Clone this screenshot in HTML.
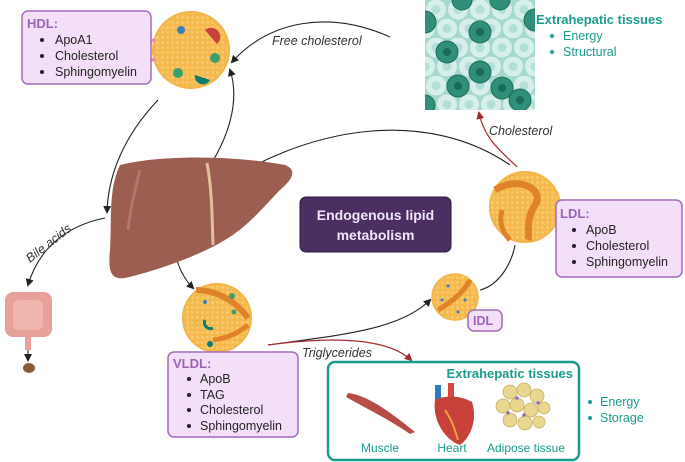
<!DOCTYPE html>
<html><head><meta charset="utf-8"><style>
html,body{margin:0;padding:0;background:#fff;}
svg{display:block;font-family:"Liberation Sans",sans-serif;}
</style></head><body>
<svg width="685" height="462" viewBox="0 0 685 462" xmlns="http://www.w3.org/2000/svg">
<defs>
<marker id="ab" markerWidth="8" markerHeight="8" refX="6" refY="4" orient="auto" markerUnits="userSpaceOnUse"><path d="M0,0 L8,4 L0,8 Z" fill="#222"/></marker>
<marker id="ar" markerWidth="8" markerHeight="8" refX="6" refY="4" orient="auto" markerUnits="userSpaceOnUse"><path d="M0,0 L8,4 L0,8 Z" fill="#a52a2a"/></marker>
<pattern id="cells" width="22" height="38" patternUnits="userSpaceOnUse" x="425" y="0">
<rect width="22" height="38" fill="#a6d8cd"/>
<circle cx="11" cy="9.5" r="10" fill="#d6efea"/><circle cx="11" cy="9.5" r="4.5" fill="#b3e0d6"/>
<circle cx="0" cy="28.5" r="10" fill="#d6efea"/><circle cx="0" cy="28.5" r="4.5" fill="#b3e0d6"/>
<circle cx="22" cy="28.5" r="10" fill="#d6efea"/><circle cx="22" cy="28.5" r="4.5" fill="#b3e0d6"/>
</pattern>
<pattern id="dots" width="5" height="5" patternUnits="userSpaceOnUse"><rect width="5" height="5" fill="#f4b84c"/><circle cx="2.5" cy="2.5" r="1.6" fill="#f7c86a"/></pattern>
<clipPath id="tc"><rect x="425" y="0" width="110" height="110"/></clipPath>
</defs>

<!-- tissue square -->
<g clip-path="url(#tc)">
<rect x="425" y="0" width="110" height="110" fill="url(#cells)"/>
<g fill="#2f8f78" stroke="#1f6e5c" stroke-width="1">
<circle cx="425" cy="22" r="11"/><circle cx="480" cy="32" r="11"/><circle cx="535" cy="20" r="11"/>
<circle cx="447" cy="52" r="11"/><circle cx="480" cy="72" r="11"/><circle cx="502" cy="88" r="11"/>
<circle cx="458" cy="86" r="11"/><circle cx="520" cy="100" r="11"/><circle cx="425" cy="105" r="10"/>
<circle cx="462" cy="0" r="10"/><circle cx="500" cy="0" r="10"/>
</g>
<g fill="#1a6b58"><circle cx="480" cy="32" r="4"/><circle cx="447" cy="52" r="4"/><circle cx="480" cy="72" r="4"/><circle cx="502" cy="88" r="4"/><circle cx="458" cy="86" r="4"/><circle cx="520" cy="100" r="4"/></g>
</g>
<text x="536" y="24" font-size="13" font-weight="bold" fill="#1a9c8c">Extrahepatic tissues</text>
<g font-size="12.5" fill="#1a9c8c"><circle cx="552" cy="36" r="2"/><text x="563" y="40">Energy</text><circle cx="552" cy="52" r="2"/><text x="563" y="56">Structural</text></g>

<!-- connectors -->
<g fill="none" stroke="#222" stroke-width="1.1">
<path d="M390,37 C330,10 270,20 232,62" marker-end="url(#ab)"/>
<path d="M200,180 C230,140 240,100 230,70" marker-end="url(#ab)"/>
<path d="M158,100 C120,140 108,180 107,212" marker-end="url(#ab)"/>
<path d="M510,165 C430,110 310,120 203,197" marker-end="url(#ab)"/>
<path d="M105,218 C70,225 40,245 28,285" marker-end="url(#ab)"/>
<path d="M28,340 L28,360" marker-end="url(#ab)"/>
<path d="M170,225 C175,260 180,275 193,288" marker-end="url(#ab)"/>
<path d="M268,345 C340,335 400,330 430,300" marker-end="url(#ab)"/>
<path d="M480,290 C500,285 512,262 515,245"/>
</g>
<path d="M517,167 C500,150 485,140 479,113" fill="none" stroke="#a52a2a" stroke-width="1.2" marker-end="url(#ar)"/>
<path d="M268,345 C340,335 390,340 411,360" fill="none" stroke="#a52a2a" stroke-width="1.2" marker-end="url(#ar)"/>

<g font-size="12.5" font-style="italic" fill="#333">
<text x="272" y="45">Free cholesterol</text>
<text x="489" y="135">Cholesterol</text>
<text x="302" y="357">Triglycerides</text>
<text x="0" y="0" transform="translate(30,263) rotate(-38)">Bile acids</text>
</g>

<!-- liver -->
<path d="M120,165 C160,155 230,155 285,165 C298,170 292,180 280,190 C265,205 250,225 225,240 C200,255 160,270 125,278 C110,280 108,270 110,250 C112,220 108,190 120,165 Z" fill="#9b5e50"/>
<path d="M140,170 C135,190 130,210 128,230" stroke="#b0776a" stroke-width="3" fill="none"/>
<path d="M207,163 C212,190 212,215 213,245" stroke="#e2c09a" stroke-width="3" fill="none"/>

<!-- intestine -->
<g>
<rect x="5" y="292" width="47" height="45" rx="8" fill="#e8a09a"/>
<rect x="13" y="300" width="30" height="30" rx="6" fill="#f0b6ae"/>
<rect x="25" y="335" width="6" height="15" fill="#e8a09a"/>
<ellipse cx="29" cy="368" rx="6" ry="5" fill="#8b5a3c"/>
</g>

<!-- particles -->
<circle cx="191" cy="50" r="38" fill="url(#dots)" stroke="#f2b54a" stroke-width="2"/>
<g><circle cx="181" cy="30" r="4" fill="#3b7fbf"/><path d="M205,30 a9,9 0 0 1 12,14 z" fill="#c8413c"/><circle cx="215" cy="58" r="5" fill="#3a9e6d"/><path d="M195,75 a8,8 0 0 0 15,5 z" fill="#0e7b6e"/><circle cx="178" cy="73" r="5" fill="#3a9e6d"/><path d="M155,40 a9,9 0 0 0 0,20" stroke="#e08ab0" stroke-width="3" fill="none"/></g>

<circle cx="525" cy="207" r="35" fill="url(#dots)" stroke="#f2b54a" stroke-width="2"/>
<path d="M495,190 C520,175 545,190 535,205 C525,220 530,235 528,240" stroke="#e0822a" stroke-width="7" fill="none"/>
<path d="M502,210 C498,225 505,235 510,240" stroke="#e0822a" stroke-width="5" fill="none"/>

<circle cx="455" cy="297" r="23" fill="url(#dots)" stroke="#f2b54a" stroke-width="1.5"/>
<path d="M438,310 C455,300 465,290 470,280" stroke="#e0822a" stroke-width="5" fill="none"/>
<g fill="#3b7fbf"><circle cx="448" cy="286" r="1.5"/><circle cx="465" cy="300" r="1.5"/><circle cx="458" cy="312" r="1.5"/><circle cx="442" cy="300" r="1.5"/></g>

<circle cx="217" cy="318" r="34" fill="url(#dots)" stroke="#f2b54a" stroke-width="2"/>
<path d="M196,290 C215,290 235,300 248,318" stroke="#e0822a" stroke-width="6" fill="none"/>
<path d="M213,340 C230,338 242,330 248,325" stroke="#e0822a" stroke-width="5" fill="none"/>
<g><circle cx="232" cy="296" r="3" fill="#3a9e6d"/><circle cx="205" cy="302" r="2" fill="#3b7fbf"/><path d="M205,320 a6,6 0 0 0 8,8" stroke="#0e7b6e" stroke-width="3" fill="none"/><circle cx="210" cy="344" r="3" fill="#0e7b6e"/><circle cx="234" cy="312" r="2.5" fill="#3a9e6d"/></g>

<!-- info boxes -->
<g font-size="12.5" fill="#222">
<rect x="22" y="11" width="129" height="73" rx="6" fill="#f3e0f8" stroke="#a36bbb" stroke-width="1.5"/>
<text x="27" y="28" font-weight="bold" fill="#9b63b5" font-size="13">HDL:</text>
<circle cx="42" cy="40" r="2"/><text x="55" y="44">ApoA1</text>
<circle cx="42" cy="56" r="2"/><text x="55" y="60">Cholesterol</text>
<circle cx="42" cy="72" r="2"/><text x="55" y="76">Sphingomyelin</text>

<rect x="556" y="200" width="126" height="77" rx="6" fill="#f3e0f8" stroke="#a36bbb" stroke-width="1.5"/>
<text x="560" y="218" font-weight="bold" fill="#9b63b5" font-size="13">LDL:</text>
<circle cx="574" cy="230" r="2"/><text x="586" y="234">ApoB</text>
<circle cx="574" cy="246" r="2"/><text x="586" y="250">Cholesterol</text>
<circle cx="574" cy="262" r="2"/><text x="586" y="266">Sphingomyelin</text>

<rect x="168" y="352" width="130" height="85" rx="6" fill="#f3e0f8" stroke="#a36bbb" stroke-width="1.5"/>
<text x="173" y="368" font-weight="bold" fill="#9b63b5" font-size="13">VLDL:</text>
<circle cx="189" cy="379" r="2"/><text x="200" y="383">ApoB</text>
<circle cx="189" cy="395" r="2"/><text x="200" y="399">TAG</text>
<circle cx="189" cy="410" r="2"/><text x="200" y="414">Cholesterol</text>
<circle cx="189" cy="426" r="2"/><text x="200" y="430">Sphingomyelin</text>

<rect x="468" y="310" width="34" height="21" rx="6" fill="#f3e0f8" stroke="#a36bbb" stroke-width="1.5"/>
<text x="473" y="325" font-weight="bold" fill="#9b63b5" font-size="12.5">IDL</text>
</g>

<!-- center title -->
<rect x="300" y="197" width="151" height="55" rx="6" fill="#4b2f63" stroke="#2e1a3e"/>
<text x="375.5" y="220" text-anchor="middle" font-size="14" font-weight="bold" fill="#f0e6f5">Endogenous lipid</text>
<text x="375.5" y="240" text-anchor="middle" font-size="14" font-weight="bold" fill="#f0e6f5">metabolism</text>

<!-- bottom extrahepatic box -->
<rect x="328" y="362" width="251" height="98" rx="7" fill="#fff" stroke="#1a9c8c" stroke-width="2.5"/>
<text x="573" y="378" text-anchor="end" font-size="13" font-weight="bold" fill="#1a9c8c">Extrahepatic tissues</text>
<path d="M348,393 C370,395 400,420 415,432 L410,434 C390,420 360,405 346,397 Z" fill="#b84c48"/>
<g>
<rect x="435" y="385" width="6" height="20" fill="#2d7ac4"/><rect x="448" y="383" width="6" height="15" fill="#d9453f"/>
<path d="M435,400 C432,420 445,440 460,445 C470,438 478,420 472,402 C460,395 445,395 435,400 Z" fill="#c7403a"/>
<path d="M445,410 C452,420 455,430 458,440" stroke="#e9a23b" stroke-width="2" fill="none"/>
</g>
<g fill="#e9d690" stroke="#c9b060" stroke-width="0.8">
<circle cx="510" cy="392" r="7"/><circle cx="524" cy="390" r="7"/><circle cx="537" cy="396" r="7"/><circle cx="503" cy="406" r="7"/><circle cx="517" cy="405" r="7"/><circle cx="531" cy="410" r="7"/><circle cx="544" cy="408" r="6"/><circle cx="510" cy="420" r="7"/><circle cx="525" cy="423" r="7"/><circle cx="539" cy="422" r="6"/>
</g>
<g fill="#8d6fc2"><circle cx="517" cy="398" r="1.8"/><circle cx="524" cy="415" r="1.8"/><circle cx="508" cy="413" r="1.8"/><circle cx="538" cy="403" r="1.8"/></g>
<g font-size="12" fill="#1a9c8c" text-anchor="middle">
<text x="380" y="452">Muscle</text><text x="452" y="452">Heart</text><text x="526" y="452">Adipose tissue</text>
</g>
<g font-size="12.5" fill="#1a9c8c"><circle cx="590" cy="402" r="2"/><text x="600" y="406">Energy</text><circle cx="590" cy="418" r="2"/><text x="600" y="422">Storage</text></g>
</svg>
</body></html>
